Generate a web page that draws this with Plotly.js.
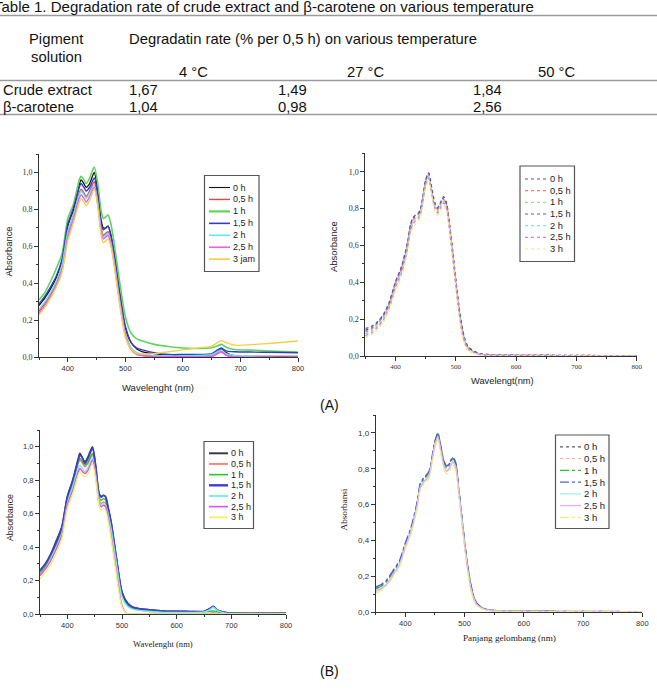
<!DOCTYPE html>
<html>
<head>
<meta charset="utf-8">
<script src="https://cdn.plot.ly/plotly-3.0.1.min.js"></script>
<style>
  html, body { margin: 0; padding: 0; background: #ffffff; }
  #fig { width: 657px; height: 699px; }
</style>
</head>
<body>
<div id="fig"></div>
<script>
// ---------------- Table 1 ----------------
const tableTitle = 'Table 1. Degradation rate of crude extract and β-carotene on various temperature';
const tableHeadLeft = ['Pigment', 'solution'];
const tableHeadMain = 'Degradatin rate (% per 0,5 h) on various temperature';
const temperatures = ['4 °C', '27 °C', '50 °C'];
const pigments = ['Crude extract', 'β-carotene'];
const rateCrude = [1.67, 1.49, 1.84];
const rateCarotene = [1.04, 0.98, 2.56];

// ---------------- Spectra: crude extract ----------------
const wlCrude = [350,360,370,380,390,400,410,420,423,428,432,438,446,452,458,462,466,470,475,480,490,500,510,520,530,550,575,600,625,650,660,667,675,690,725,750,800];

const crudeA_0h  = [0.28,0.32,0.37,0.43,0.52,0.71,0.80,0.93,0.96,0.94,0.92,0.94,1.00,0.90,0.74,0.70,0.70,0.71,0.66,0.57,0.35,0.16,0.08,0.045,0.03,0.02,0.012,0.01,0.01,0.015,0.03,0.045,0.025,0.008,0.005,0.005,0.005];
const crudeA_05h = [0.25,0.29,0.34,0.40,0.49,0.67,0.77,0.89,0.91,0.89,0.87,0.90,0.95,0.85,0.70,0.66,0.67,0.68,0.63,0.54,0.32,0.13,0.05,0.02,0.01,0.005,0.003,0.002,0.002,0.005,0.02,0.03,0.012,0.003,0.0,0.0,0.0];
const crudeA_1h  = [0.31,0.35,0.41,0.48,0.56,0.75,0.83,0.96,0.98,0.96,0.94,0.97,1.03,0.94,0.79,0.75,0.76,0.77,0.72,0.63,0.41,0.22,0.13,0.10,0.088,0.07,0.058,0.05,0.048,0.052,0.062,0.07,0.055,0.042,0.038,0.034,0.028];
const crudeA_15h = [0.29,0.33,0.38,0.44,0.53,0.72,0.81,0.92,0.94,0.92,0.90,0.92,0.97,0.88,0.72,0.69,0.70,0.71,0.66,0.57,0.35,0.17,0.08,0.05,0.04,0.025,0.015,0.015,0.015,0.02,0.04,0.05,0.035,0.03,0.028,0.027,0.025];
const crudeA_2h  = [0.26,0.30,0.35,0.41,0.50,0.68,0.77,0.88,0.90,0.88,0.86,0.89,0.93,0.84,0.69,0.65,0.66,0.67,0.62,0.53,0.31,0.13,0.05,0.025,0.015,0.01,0.008,0.008,0.01,0.015,0.03,0.04,0.02,0.01,0.002,0.0,0.0];
const crudeA_25h = [0.24,0.28,0.33,0.39,0.47,0.65,0.75,0.86,0.88,0.86,0.84,0.87,0.92,0.83,0.68,0.64,0.65,0.66,0.61,0.52,0.30,0.12,0.04,0.015,0.01,0.005,0.003,0.003,0.003,0.006,0.02,0.03,0.01,0.003,0.0,0.0,0.0];
const crudeA_3h  = [0.23,0.27,0.32,0.38,0.46,0.63,0.73,0.84,0.86,0.84,0.82,0.85,0.91,0.82,0.66,0.62,0.63,0.64,0.60,0.51,0.29,0.11,0.045,0.02,0.018,0.02,0.03,0.04,0.05,0.06,0.08,0.09,0.08,0.065,0.07,0.075,0.088];

const crudeB_0h  = [0.26,0.30,0.36,0.44,0.52,0.70,0.80,0.93,0.96,0.93,0.91,0.94,1.00,0.88,0.72,0.70,0.71,0.70,0.63,0.55,0.33,0.13,0.065,0.04,0.032,0.025,0.018,0.016,0.015,0.015,0.03,0.045,0.022,0.008,0.005,0.005,0.005];
const crudeB_05h = [0.24,0.28,0.34,0.41,0.49,0.67,0.77,0.90,0.92,0.90,0.88,0.90,0.95,0.85,0.69,0.66,0.67,0.66,0.60,0.52,0.31,0.11,0.05,0.03,0.025,0.015,0.012,0.01,0.01,0.012,0.03,0.04,0.02,0.005,0.003,0.003,0.003];
const crudeB_1h  = [0.25,0.29,0.35,0.42,0.50,0.68,0.78,0.91,0.93,0.91,0.89,0.91,0.96,0.86,0.70,0.68,0.69,0.68,0.61,0.53,0.32,0.12,0.055,0.035,0.03,0.022,0.016,0.014,0.013,0.013,0.016,0.018,0.012,0.008,0.008,0.008,0.008];
const crudeB_15h = [0.26,0.30,0.36,0.43,0.52,0.70,0.80,0.92,0.95,0.93,0.90,0.93,0.99,0.88,0.72,0.70,0.71,0.70,0.63,0.55,0.33,0.13,0.065,0.04,0.032,0.025,0.018,0.016,0.015,0.015,0.03,0.045,0.022,0.008,0.005,0.005,0.005];
const crudeB_2h  = [0.23,0.27,0.33,0.40,0.48,0.66,0.76,0.87,0.89,0.87,0.85,0.88,0.93,0.83,0.68,0.65,0.66,0.65,0.59,0.51,0.30,0.10,0.045,0.028,0.022,0.015,0.01,0.01,0.01,0.012,0.025,0.04,0.02,0.005,0.003,0.003,0.003];
const crudeB_25h = [0.23,0.27,0.32,0.39,0.47,0.65,0.74,0.85,0.87,0.85,0.84,0.86,0.92,0.82,0.66,0.64,0.65,0.64,0.57,0.47,0.25,0.05,0.0,0.0,0.0,0.0,0.0,0.0,0.0,0.0,0.003,0.006,0.0,0.0,0.0,0.0,0.0];
const crudeB_3h  = [0.21,0.25,0.30,0.37,0.45,0.63,0.72,0.83,0.85,0.83,0.82,0.84,0.90,0.80,0.65,0.62,0.63,0.62,0.55,0.45,0.23,0.04,0.0,0.0,0.0,0.0,0.0,0.0,0.0,0.0,0.0,0.0,0.0,0.0,0.0,0.0,0.0];

// ---------------- Spectra: beta-carotene ----------------
const wlCarotene = [350,360,370,380,390,400,410,420,425,430,440,445,450,455,460,465,470,475,480,485,490,495,500,505,510,515,520,530,540,550,600,700,800];

const caroteneA_0h  = [0.14,0.15,0.18,0.22,0.29,0.40,0.48,0.61,0.71,0.75,0.78,0.85,0.95,0.99,0.91,0.83,0.80,0.83,0.86,0.82,0.70,0.56,0.41,0.27,0.16,0.09,0.05,0.025,0.012,0.008,0.005,0.003,0.001];
const caroteneA_05h = [0.13,0.145,0.175,0.215,0.285,0.39,0.47,0.60,0.70,0.74,0.775,0.845,0.945,0.985,0.905,0.825,0.795,0.825,0.85,0.815,0.695,0.555,0.405,0.265,0.155,0.085,0.047,0.023,0.011,0.007,0.004,0.002,0.001];
const caroteneA_1h  = [0.12,0.135,0.165,0.205,0.275,0.38,0.46,0.59,0.69,0.73,0.765,0.835,0.935,0.975,0.895,0.815,0.785,0.815,0.84,0.805,0.685,0.545,0.395,0.255,0.145,0.08,0.044,0.021,0.01,0.006,0.004,0.002,0.001];
const caroteneA_15h = [0.15,0.16,0.185,0.225,0.295,0.40,0.485,0.615,0.715,0.755,0.785,0.855,0.955,0.995,0.915,0.835,0.805,0.835,0.865,0.825,0.705,0.565,0.415,0.275,0.165,0.092,0.052,0.026,0.013,0.009,0.005,0.003,0.001];
const caroteneA_2h  = [0.12,0.13,0.16,0.20,0.27,0.375,0.455,0.585,0.685,0.725,0.76,0.83,0.93,0.97,0.89,0.81,0.78,0.81,0.835,0.80,0.68,0.54,0.39,0.25,0.14,0.075,0.04,0.02,0.009,0.006,0.004,0.002,0.001];
const caroteneA_25h = [0.11,0.125,0.155,0.195,0.265,0.37,0.45,0.58,0.68,0.72,0.755,0.825,0.925,0.965,0.885,0.805,0.775,0.805,0.83,0.795,0.675,0.535,0.385,0.245,0.135,0.07,0.037,0.018,0.008,0.005,0.003,0.002,0.001];
const caroteneA_3h  = [0.10,0.115,0.145,0.185,0.255,0.355,0.435,0.565,0.665,0.705,0.745,0.815,0.915,0.955,0.875,0.79,0.765,0.79,0.815,0.785,0.665,0.52,0.37,0.23,0.12,0.06,0.03,0.014,0.006,0.004,0.003,0.002,0.001];

const caroteneB_0h  = [0.13,0.15,0.18,0.23,0.28,0.38,0.47,0.61,0.71,0.74,0.78,0.86,0.95,1.00,0.92,0.84,0.81,0.83,0.86,0.83,0.69,0.54,0.39,0.26,0.16,0.09,0.05,0.022,0.012,0.008,0.005,0.003,0.002];
const caroteneB_05h = [0.125,0.14,0.17,0.22,0.27,0.37,0.46,0.60,0.70,0.73,0.77,0.85,0.94,0.99,0.91,0.83,0.80,0.82,0.85,0.82,0.68,0.53,0.38,0.25,0.15,0.085,0.047,0.02,0.011,0.007,0.004,0.002,0.001];
const caroteneB_1h  = [0.13,0.145,0.175,0.225,0.275,0.375,0.465,0.605,0.705,0.735,0.775,0.855,0.945,0.995,0.915,0.835,0.805,0.825,0.855,0.825,0.685,0.535,0.385,0.255,0.155,0.087,0.048,0.021,0.011,0.007,0.004,0.002,0.001];
const caroteneB_15h = [0.14,0.155,0.185,0.235,0.285,0.385,0.475,0.615,0.715,0.745,0.785,0.865,0.955,0.995,0.925,0.845,0.815,0.835,0.865,0.835,0.695,0.545,0.395,0.265,0.165,0.092,0.052,0.023,0.012,0.008,0.005,0.003,0.002];
const caroteneB_2h  = [0.12,0.135,0.165,0.215,0.265,0.365,0.455,0.595,0.695,0.725,0.765,0.845,0.935,0.98,0.90,0.82,0.79,0.81,0.84,0.81,0.675,0.525,0.375,0.245,0.145,0.08,0.044,0.019,0.01,0.006,0.004,0.002,0.001];
const caroteneB_25h = [0.115,0.13,0.16,0.21,0.26,0.36,0.45,0.59,0.69,0.72,0.76,0.84,0.93,0.975,0.895,0.815,0.785,0.805,0.835,0.805,0.67,0.52,0.37,0.24,0.14,0.077,0.042,0.018,0.009,0.006,0.003,0.002,0.001];
const caroteneB_3h  = [0.105,0.12,0.15,0.20,0.25,0.35,0.44,0.575,0.675,0.705,0.745,0.825,0.915,0.96,0.88,0.80,0.77,0.79,0.82,0.79,0.66,0.51,0.36,0.23,0.13,0.07,0.038,0.016,0.008,0.005,0.003,0.002,0.001];

// ---------------- Series labels ----------------
const timesCrudeA = ['0 h', '0,5 h', '1 h', '1,5 h', '2 h', '2,5 h', '3 jam'];
const timesOther  = ['0 h', '0,5 h', '1 h', '1,5 h', '2 h', '2,5 h', '3 h'];
const panelLabels = ['(A)', '(B)'];

// ---------------- Geometry helpers (pixels -> paper) ----------------
const W = 657, H = 699;
const px = v => v / W;
const py = v => 1 - v / H;

// line styles per panel: [color, dash, width(plot), width(legend sample)]
const styleCrudeA = [
  ['#111111', 'solid', 1.3, 1.1], ['#e04646', 'solid', 1.4, 1.4], ['#5cd65c', 'solid', 1.6, 2.2],
  ['#3838c8', 'solid', 1.4, 1.6], ['#60e6f0', 'solid', 1.4, 1.6], ['#ee5cee', 'solid', 1.4, 1.6],
  ['#f7cf4a', 'solid', 1.4, 1.8]
];
const styleCaroteneA = [
  ['#565a7c', 'dot', 1.4, 1.2], ['#ff7474', 'dot', 1.3, 1.2], ['#8ae68a', 'dot', 1.3, 1.2],
  ['#5656cc', 'dot', 1.4, 1.2], ['#74e6f0', 'dot', 1.3, 1.2], ['#ee70ee', 'dot', 1.3, 1.2],
  ['#f2ee70', 'dot', 1.3, 1.2]
];
const styleCrudeB = [
  ['#3a3a46', 'solid', 1.7, 2.0], ['#ff7a7a', 'solid', 1.4, 1.8], ['#2ec42e', 'solid', 1.4, 1.6],
  ['#3d3dd8', 'solid', 1.6, 2.4], ['#78f0f0', 'solid', 1.4, 2.0], ['#e84ce8', 'solid', 1.4, 1.6],
  ['#f2f272', 'solid', 1.4, 2.0]
];
const styleCaroteneB = [
  ['#5a5a80', 'dot', 1.4, 1.2], ['#ffa4a4', 'dot', 1.2, 1.0], ['#30c030', 'dashdot', 1.2, 1.2],
  ['#5a5ad0', 'dashdot', 1.4, 1.4], ['#98f0e6', 'solid', 1.2, 1.2], ['#f4a4f4', 'solid', 1.2, 1.2],
  ['#eeee80', 'dashdot', 1.2, 1.2]
];

const traces = [];
function addSeries(x, ys, styles, xa, ya) {
  ys.forEach((y, i) => {
    const s = styles[i];
    traces.push({
      type: 'scatter', mode: 'lines', x: x, y: y, xaxis: xa, yaxis: ya,
      line: { color: s[0], dash: s[1], width: s[2], shape: 'spline', smoothing: 0.7 },
      showlegend: false, hoverinfo: 'skip'
    });
  });
}
addSeries(wlCrude, [crudeA_0h, crudeA_05h, crudeA_1h, crudeA_15h, crudeA_2h, crudeA_25h, crudeA_3h], styleCrudeA, 'x', 'y');
addSeries(wlCarotene, [caroteneA_0h, caroteneA_05h, caroteneA_1h, caroteneA_15h, caroteneA_2h, caroteneA_25h, caroteneA_3h], styleCaroteneA, 'x2', 'y2');
addSeries(wlCrude, [crudeB_0h, crudeB_05h, crudeB_1h, crudeB_15h, crudeB_2h, crudeB_25h, crudeB_3h], styleCrudeB, 'x3', 'y3');
addSeries(wlCarotene, [caroteneB_0h, caroteneB_05h, caroteneB_1h, caroteneB_15h, caroteneB_2h, caroteneB_25h, caroteneB_3h], styleCaroteneB, 'x4', 'y4');

// ---------------- Axes ----------------
const AX = '#333333';
const SERIF = 'Liberation Serif, Times New Roman, serif';
const SANS = 'Liberation Sans, Arial, sans-serif';
function xAxis(l, r, anchor, font) {
  return {
    domain: [px(l), px(r)], anchor: anchor, range: [350, 800],
    showline: true, linecolor: AX, linewidth: 1, mirror: false,
    ticks: 'outside', ticklen: 4, tickwidth: 1, tickcolor: AX,
    tick0: 0, dtick: 100,
    minor: { ticks: 'outside', dtick: 50, ticklen: 2, tickcolor: AX, tickwidth: 1 },
    showgrid: false, zeroline: false, tickfont: font, fixedrange: true
  };
}
function yAxis(top, bottom, anchor, font) {
  return {
    domain: [py(bottom), py(top)], anchor: anchor, range: [0, 1.1],
    showline: true, linecolor: AX, linewidth: 1, mirror: false,
    ticks: 'outside', ticklen: 4, tickwidth: 1, tickcolor: AX,
    tick0: 0, dtick: 0.2, tickformat: '.1f',
    minor: { ticks: 'outside', dtick: 0.1, ticklen: 2, tickcolor: AX, tickwidth: 1 },
    showgrid: false, zeroline: false, tickfont: font, fixedrange: true
  };
}

// ---------------- Shapes & annotations ----------------
const shapes = [];
const annotations = [];
function text(str, x, y, opts) {
  annotations.push(Object.assign({
    text: str, x: px(x), y: py(y), xref: 'paper', yref: 'paper',
    showarrow: false, xanchor: 'center', yanchor: 'middle', borderpad: 0,
    font: { family: SANS, size: 14, color: '#111111' }
  }, opts || {}));
}
function hline(y, color, width) {
  shapes.push({ type: 'line', xref: 'paper', yref: 'paper', x0: 0, x1: 1, y0: py(y), y1: py(y),
    line: { color: color, width: width } });
}

// table
const fmt = v => v.toFixed(2).replace('.', ',');
const bodyFont = { family: SANS, size: 14.8, color: '#111' };
text(tableTitle, -7.5, 6.5, { xanchor: 'left', font: { family: SANS, size: 15, color: '#111' } });
hline(15.5, '#9a9a9a', 1.6);
text(tableHeadLeft[0], 56, 39, { font: bodyFont });
text(tableHeadLeft[1], 56, 57, { font: bodyFont });
text(tableHeadMain, 128, 39, { xanchor: 'left', font: bodyFont });
const tempX = [193, 365, 556];
temperatures.forEach((t, i) => text(t, tempX[i], 72, { font: bodyFont }));
hline(80.5, '#9a9a9a', 1.6);
const valX = [128, 277, 472];
[rateCrude, rateCarotene].forEach((row, r) => {
  const yy = r === 0 ? 90 : 107;
  text(pigments[r], 2, yy, { xanchor: 'left', font: bodyFont });
  row.forEach((v, i) => text(fmt(v), valX[i], yy, { xanchor: 'left', font: bodyFont }));
});
hline(114.5, '#9a9a9a', 1.6);

// panel labels
text(panelLabels[0], 329, 405, { font: { family: SANS, size: 14, color: '#111' } });
text(panelLabels[1], 329, 671, { font: { family: SANS, size: 14, color: '#111' } });

// axis titles
const t9 = (fam, size) => ({ family: fam, size: size, color: '#222' });
text('Absorbance', 8.5, 252, { textangle: -90, font: t9(SANS, 9.4) });
text('Wavelenght (nm)', 158, 387, { font: t9(SANS, 9.5) });
text('Absorbance', 334, 247, { textangle: -90, font: t9(SANS, 9.5) });
text('Wavelengt(nm)', 502, 381, { font: t9(SANS, 9.3) });
text('Absorbance', 10, 518, { textangle: -90, font: t9(SANS, 8.8) });
text('Wavelenght (nm)', 163, 644, { font: t9(SERIF, 8.6) });
text('Absorbansi', 343.5, 510, { textangle: -90, font: t9(SERIF, 9.2) });
text('Panjang gelombang (nm)', 509, 638, { font: t9(SERIF, 9.2) });

// legends drawn as boxed keys
function legendBox(box, labels, styles) {
  shapes.push({ type: 'rect', xref: 'paper', yref: 'paper',
    x0: px(box.l), x1: px(box.r), y0: py(box.b), y1: py(box.t),
    line: { color: '#555555', width: 1.2 }, fillcolor: 'rgba(255,255,255,0)' });
  labels.forEach((lab, i) => {
    const yy = box.first + i * box.step;
    const s = styles[i];
    shapes.push({ type: 'line', xref: 'paper', yref: 'paper',
      x0: px(box.s0), x1: px(box.s1), y0: py(yy), y1: py(yy),
      line: { color: s[0], dash: s[1], width: s[3] } });
    text(lab, box.tx, yy, { xanchor: 'left', font: { family: SANS, size: box.fs, color: '#222' } });
  });
}
legendBox({ l: 204.5, r: 259, t: 175.5, b: 271.5, s0: 209, s1: 230, tx: 231.5, first: 187.5, step: 11.95, fs: 9 }, timesCrudeA, styleCrudeA);
legendBox({ l: 520, r: 574.5, t: 166, b: 261.5, s0: 525, s1: 546, tx: 548.5, first: 179, step: 11.67, fs: 9.3 }, timesOther, styleCaroteneA);
legendBox({ l: 204, r: 253.5, t: 441.5, b: 528.5, s0: 209, s1: 228, tx: 229.5, first: 453.3, step: 10.67, fs: 9 }, timesOther, styleCrudeB);
legendBox({ l: 555.5, r: 609, t: 435, b: 528.5, s0: 560, s1: 581, tx: 583, first: 446.8, step: 11.77, fs: 9.5 }, timesOther, styleCaroteneB);

const layout = {
  width: W, height: H,
  margin: { l: 0, r: 0, t: 0, b: 0, pad: 0 },
  paper_bgcolor: '#ffffff', plot_bgcolor: 'rgba(0,0,0,0)',
  separators: ', ',
  showlegend: false,
  font: { family: SANS, color: '#333' },
  xaxis:  xAxis(39, 298, 'y',  { family: SANS, size: 7.5, color: '#333' }),
  yaxis:  yAxis(154, 357.3, 'x', { family: SERIF, size: 8, color: '#333' }),
  xaxis2: xAxis(365.3, 636.7, 'y2', { family: SERIF, size: 7, color: '#333' }),
  yaxis2: yAxis(153.3, 356, 'x2', { family: SERIF, size: 8, color: '#333' }),
  xaxis3: xAxis(40, 286, 'y3', { family: SANS, size: 7.5, color: '#333' }),
  yaxis3: yAxis(430, 614, 'x3', { family: SANS, size: 7.5, color: '#333' }),
  xaxis4: xAxis(375.7, 642.3, 'y4', { family: SANS, size: 7.5, color: '#333' }),
  yaxis4: yAxis(415, 612, 'x4', { family: SANS, size: 8, color: '#333' }),
  shapes: shapes,
  annotations: annotations
};

Plotly.newPlot('fig', traces, layout, { staticPlot: true, displayModeBar: false });
</script>
</body>
</html>
